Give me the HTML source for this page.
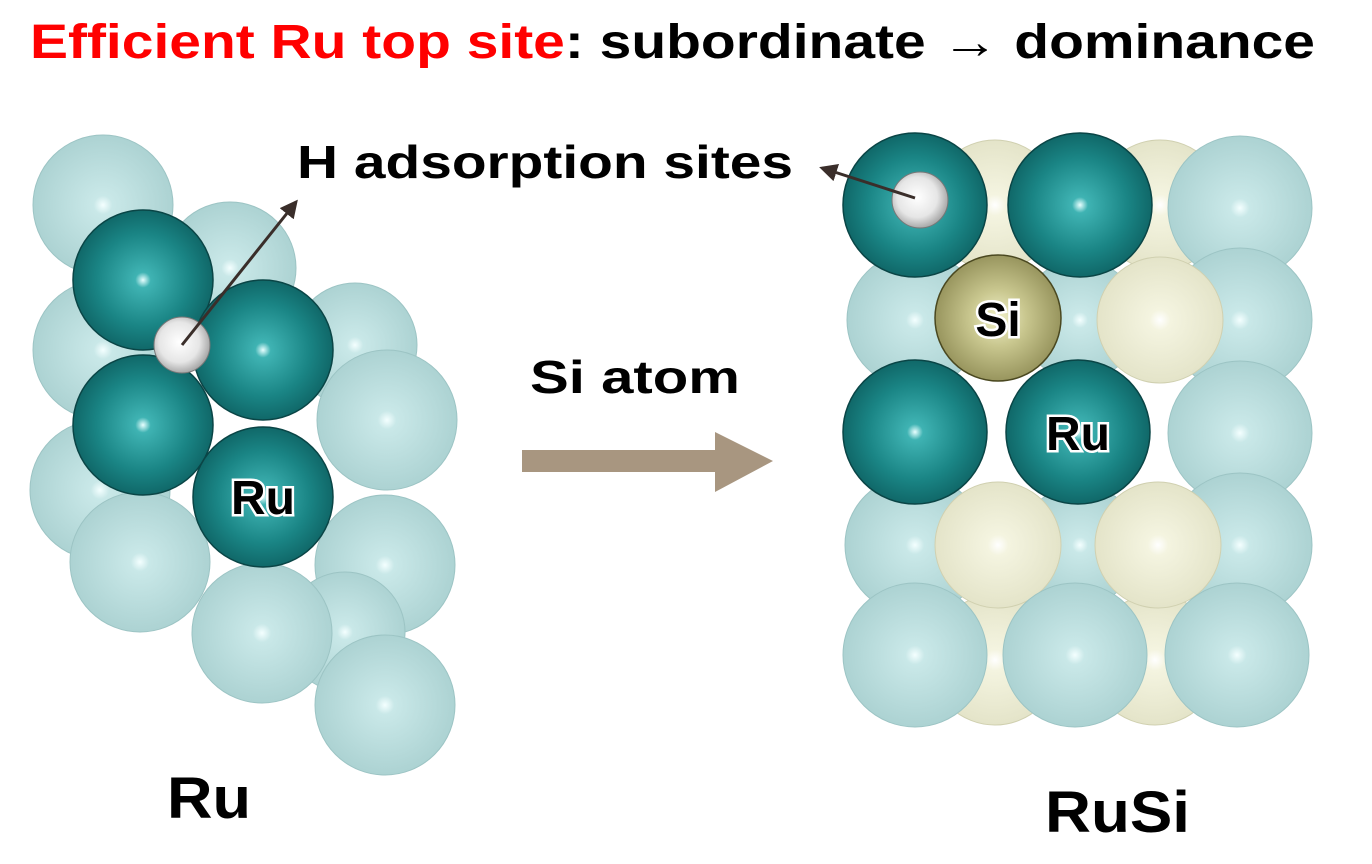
<!DOCTYPE html>
<html><head><meta charset="utf-8"><style>
html,body{margin:0;padding:0;background:#fff;}
svg{display:block;}
text{font-family:"Liberation Sans",Arial,sans-serif;font-weight:bold;}
</style></head><body>
<svg width="1372" height="864" viewBox="0 0 1372 864">
<defs>
<radialGradient id="lt" cx="0.5" cy="0.5" r="0.55"><stop offset="0" stop-color="#f4ffff"/><stop offset="0.12" stop-color="#c9e8e8"/><stop offset="1" stop-color="#a9d0d0"/></radialGradient>
<radialGradient id="dk" cx="0.5" cy="0.5" r="0.55"><stop offset="0" stop-color="#e8ffff"/><stop offset="0.1" stop-color="#3fb3b3"/><stop offset="0.6" stop-color="#1a8585"/><stop offset="1" stop-color="#0d5f60"/></radialGradient>
<radialGradient id="cr" cx="0.5" cy="0.5" r="0.55"><stop offset="0" stop-color="#ffffff"/><stop offset="0.15" stop-color="#f4f4e0"/><stop offset="1" stop-color="#e2e2c6"/></radialGradient>
<radialGradient id="si" cx="0.5" cy="0.5" r="0.55"><stop offset="0" stop-color="#f0f0c8"/><stop offset="0.4" stop-color="#c9c78f"/><stop offset="1" stop-color="#8f8c55"/></radialGradient>
<radialGradient id="h" cx="0.45" cy="0.45" r="0.6"><stop offset="0" stop-color="#ffffff"/><stop offset="0.6" stop-color="#e6e6e6"/><stop offset="1" stop-color="#9a9a9a"/></radialGradient>
<marker id="ah" markerWidth="6" markerHeight="6" refX="5" refY="3" orient="auto"><path d="M0,0 L6,3 L0,6 Z" fill="#3a2e2a"/></marker>
</defs>

<text x="30" y="58" font-size="48" textLength="1285" lengthAdjust="spacingAndGlyphs"><tspan fill="#ff0000">Efficient Ru top site</tspan><tspan fill="#000">: subordinate → dominance</tspan></text>

<g>
<g stroke="#9cc4c4" stroke-width="1" fill="url(#lt)">
<circle cx="103" cy="205" r="70"/>
<circle cx="230" cy="268" r="66"/>
<circle cx="103" cy="350" r="70"/>
<circle cx="355" cy="345" r="62"/>
<circle cx="100" cy="490" r="70"/>
<circle cx="387" cy="420" r="70"/>
<circle cx="140" cy="562" r="70"/>
<circle cx="385" cy="565" r="70"/>
<circle cx="345" cy="632" r="60"/>
<circle cx="262" cy="633" r="70"/>
<circle cx="385" cy="705" r="70"/>
</g>
<g stroke="#0a4546" stroke-width="1.5" fill="url(#dk)">
<circle cx="143" cy="280" r="70"/>
<circle cx="263" cy="350" r="70"/>
<circle cx="143" cy="425" r="70"/>
<circle cx="263" cy="497" r="70"/>
</g>
<circle cx="182" cy="345" r="28" fill="url(#h)" stroke="#777"/>
<line x1="182" y1="345" x2="296" y2="202" stroke="#3a2e2a" stroke-width="3" marker-end="url(#ah)"/>
<text x="263" y="514" font-size="48" text-anchor="middle" fill="#000" stroke="#fff" stroke-width="5" paint-order="stroke">Ru</text>
</g>

<text x="297" y="178" font-size="46" fill="#000" textLength="496" lengthAdjust="spacingAndGlyphs">H adsorption sites</text>
<text x="530" y="393" font-size="46" fill="#000" textLength="210" lengthAdjust="spacingAndGlyphs">Si atom</text>
<path d="M522,450 L715,450 L715,432 L773,461 L715,492 L715,472 L522,472 Z" fill="#a89680"/>

<g>
<g stroke="#d0d0b0" stroke-width="1" fill="url(#cr)">
<circle cx="995" cy="205" r="65"/>
<circle cx="1160" cy="205" r="65"/>
<circle cx="995" cy="660" r="65"/>
<circle cx="1155" cy="660" r="65"/>
</g>
<g stroke="#9cc4c4" stroke-width="1" fill="url(#lt)">
<circle cx="1240" cy="208" r="72"/>
<circle cx="915" cy="320" r="68"/>
<circle cx="1080" cy="320" r="60"/>
<circle cx="1240" cy="320" r="72"/>
<circle cx="1240" cy="433" r="72"/>
<circle cx="915" cy="545" r="70"/>
<circle cx="1080" cy="545" r="60"/>
<circle cx="1240" cy="545" r="72"/>
</g>
<g stroke="#d0d0b0" stroke-width="1" fill="url(#cr)">
<circle cx="1160" cy="320" r="63"/>
<circle cx="998" cy="545" r="63"/>
<circle cx="1158" cy="545" r="63"/>
</g>
<g stroke="#9cc4c4" stroke-width="1" fill="url(#lt)">
<circle cx="915" cy="655" r="72"/>
<circle cx="1075" cy="655" r="72"/>
<circle cx="1237" cy="655" r="72"/>
</g>
<g stroke="#0a4546" stroke-width="1.5" fill="url(#dk)">
<circle cx="915" cy="205" r="72"/>
<circle cx="1080" cy="205" r="72"/>
<circle cx="915" cy="432" r="72"/>
<circle cx="1078" cy="432" r="72"/>
</g>
<circle cx="998" cy="318" r="63" fill="url(#si)" stroke="#4a4820" stroke-width="1.5"/>
<text x="998" y="336" font-size="48" text-anchor="middle" fill="#000" stroke="#fff" stroke-width="5" paint-order="stroke">Si</text>
<text x="1078" y="450" font-size="48" text-anchor="middle" fill="#000" stroke="#fff" stroke-width="5" paint-order="stroke">Ru</text>
<circle cx="920" cy="200" r="28" fill="url(#h)" stroke="#777"/>
<line x1="915" y1="198" x2="822" y2="168" stroke="#3a2e2a" stroke-width="3" marker-end="url(#ah)"/>
</g>

<text x="167" y="818" font-size="58" fill="#000" textLength="84" lengthAdjust="spacingAndGlyphs">Ru</text>
<text x="1045" y="832" font-size="58" fill="#000" textLength="145" lengthAdjust="spacingAndGlyphs">RuSi</text>
</svg>
</body></html>
